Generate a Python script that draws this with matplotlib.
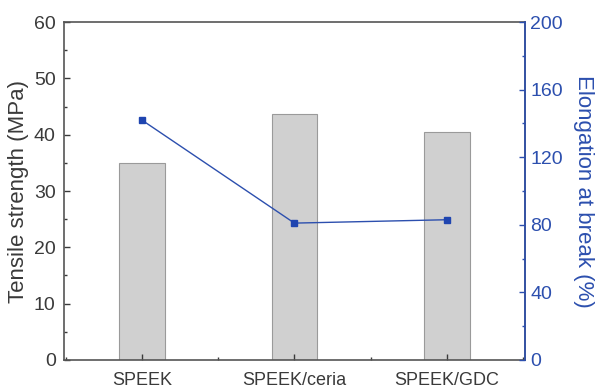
import matplotlib
matplotlib.use("Agg")
import matplotlib.pyplot as plt
from matplotlib.ticker import MultipleLocator

plt.rcParams['font.family'] = ['Liberation Sans', 'DejaVu Sans']

samples = ["SPEEK", "SPEEK/ceria", "SPEEK/GDC"]
tensile = [35.0, 43.6, 40.4]
elongation = [142, 81, 83]

blue = "#2c4fae"
grey = "#3a3a3a"

fig = plt.figure(figsize=(5.95, 3.91), dpi=100)
ax = fig.add_axes([0.1076, 0.0793, 0.7744, 0.8644])
x = range(len(samples))
ax.bar(x, tensile, width=0.3, color="#d0d0d0", edgecolor="#9a9a9a", linewidth=0.8)
ax.set_xlim(-0.51, 2.51)
ax.set_ylim(0, 60)
ax.set_xticks(list(x))
ax.set_xticklabels(samples)
ax.xaxis.set_minor_locator(MultipleLocator(0.5))
ax.yaxis.set_major_locator(MultipleLocator(10))
ax.yaxis.set_minor_locator(MultipleLocator(5))
ax.tick_params(axis='both', which='major', direction='in', length=4, width=1, labelsize=14, colors=grey)
ax.tick_params(axis='both', which='minor', direction='in', length=2, width=1, colors=grey)
ax.tick_params(axis='y', pad=6)
ax.tick_params(axis='x', pad=9, labelsize=13)
ax.set_ylabel("Tensile strength (MPa)", fontsize=16, color=grey)
ax.yaxis.set_label_coords(-0.075, 0.5)
for s in ax.spines.values():
    s.set_color("#555555")
    s.set_linewidth(1.2)

ax2 = ax.twinx()
ax2.plot(list(x), elongation, color=blue, linewidth=1, marker='s', markersize=5,
         markerfacecolor="#1f45b0", markeredgecolor="#1f45b0")
ax2.set_ylim(0, 200)
ax2.yaxis.set_major_locator(MultipleLocator(40))
ax2.yaxis.set_minor_locator(MultipleLocator(20))
ax2.tick_params(axis='y', which='major', direction='in', length=4, width=1, labelsize=14, colors=blue, pad=4)
ax2.tick_params(axis='y', which='minor', direction='in', length=2, width=1, colors=blue)
ax2.spines['right'].set_color(blue)
ax2.spines['right'].set_linewidth(1.2)
for k in ['left', 'top', 'bottom']:
    ax2.spines[k].set_visible(False)
ax2.set_ylabel("Elongation at break (%)", fontsize=16, color=blue, rotation=270, va='bottom')
ax2.yaxis.set_label_coords(1.105, 0.5)

fig.savefig("out.png", dpi=100)
